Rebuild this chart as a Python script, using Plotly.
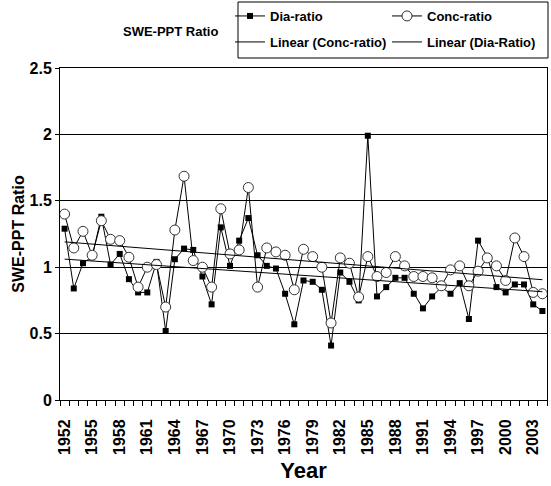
import numpy as np
import plotly.graph_objects as go

years = list(range(1952, 2005))
dia_ratio = [1.29, 0.84, 1.03, 1.08, 1.38, 1.02, 1.10, 0.91, 0.81, 0.81,
             1.04, 0.52, 1.06, 1.14, 1.13, 0.93, 0.72, 1.30, 1.01, 1.20,
             1.37, 1.09, 1.01, 0.99, 0.80, 0.57, 0.90, 0.89, 0.83, 0.41,
             0.96, 0.89, 0.75, 1.99, 0.78, 0.85, 0.92, 0.92, 0.80, 0.69,
             0.78, 0.85, 0.80, 0.88, 0.61, 1.20, 1.08, 0.85, 0.81, 0.87,
             0.87, 0.72, 0.67]
conc_ratio = [1.40, 1.145, 1.27, 1.09, 1.35, 1.21, 1.20, 1.075, 0.85, 1.00,
              1.02, 0.70, 1.28, 1.685, 1.05, 1.00, 0.85, 1.44, 1.10, 1.13,
              1.60, 0.85, 1.145, 1.115, 1.09, 0.83, 1.135, 1.08, 1.00, 0.58,
              1.07, 1.03, 0.775, 1.08, 0.93, 0.96, 1.08, 1.01, 0.93, 0.93,
              0.92, 0.86, 0.98, 1.01, 0.86, 0.97, 1.07, 1.01, 0.90, 1.22,
              1.08, 0.81, 0.80]
tick_labels = [str(y) for y in range(1952, 2004, 3)]
y_ticks = [0, 0.5, 1, 1.5, 2, 2.5]
y_tick_text = ["0", "0.5", "1", "1.5", "2", "2.5"]

x = np.array(years, dtype=float)
pc = np.polyfit(x, conc_ratio, 1)
pd_ = np.polyfit(x, dia_ratio, 1)
conc_trend = np.polyval(pc, x)
dia_trend = np.polyval(pd_, x)

FONT = "Liberation Sans, Arial, sans-serif"

# plot area in window pixels: x 60..547, y 68..400
PL, PR, PT, PB = 60, 547, 68, 400
def px(xp):
    return (xp - PL) / (PR - PL)
def py(yp):
    return (PB - yp) / (PB - PT)

fig = go.Figure()
fig.add_trace(go.Scatter(x=years, y=dia_ratio, name="Dia-ratio", mode="lines+markers",
                         line=dict(color="black", width=1), legend="legend",
                         marker=dict(symbol="square", size=6, color="black")))
fig.add_trace(go.Scatter(x=years, y=conc_ratio, name="Conc-ratio", mode="lines+markers",
                         line=dict(color="black", width=1), legend="legend",
                         marker=dict(symbol="circle", size=10, color="white",
                                     line=dict(color="#333", width=1))))
fig.add_trace(go.Scatter(x=years, y=conc_trend, name="Linear (Conc-ratio)", mode="lines",
                         line=dict(color="black", width=1), legend="legend2"))
fig.add_trace(go.Scatter(x=years, y=dia_trend, name="Linear (Dia-Ratio)", mode="lines",
                         line=dict(color="black", width=1), legend="legend2"))

leg_common = dict(orientation="h", xanchor="left", yanchor="middle",
                  entrywidth=112, borderwidth=0, bgcolor="rgba(0,0,0,0)",
                  font=dict(size=13, family=FONT, weight="bold"),
                  itemwidth=30, tracegroupgap=0)

fig.update_layout(
    width=551, height=486,
    margin=dict(l=PL, r=551 - PR, t=PT, b=486 - PB, autoexpand=False),
    paper_bgcolor="white", plot_bgcolor="white",
    font=dict(family=FONT, color="black", weight="bold"),
    showlegend=True,
    legend=dict(x=px(230), y=py(16), **leg_common),
    legend2=dict(x=px(230), y=py(42), **leg_common),
    xaxis=dict(range=[1951.5, 2004.5], tickvals=list(range(1952, 2004, 3)),
               ticktext=tick_labels, tickangle=-90, ticks="", automargin=False,
               ticklabelstandoff=12,
               tickfont=dict(size=16, family=FONT, weight="bold"),
               showgrid=False, zeroline=False,
               showline=True, linecolor="black", linewidth=1, mirror=True,
               minor=dict(tick0=1951.5, dtick=1, ticks="outside", ticklen=5,
                          tickcolor="black", showgrid=False),
               title=dict(text="Year", font=dict(size=22, family=FONT, weight="bold"),
                          standoff=8)),
    yaxis=dict(range=[0, 2.5], tickvals=y_ticks, ticktext=y_tick_text, automargin=False,
               ticks="outside", ticklen=4, tickcolor="black",
               tickfont=dict(size=16, family=FONT, weight="bold"),
               showgrid=True, gridcolor="black", gridwidth=1, zeroline=False,
               showline=True, linecolor="black", linewidth=1, mirror=True,
               title=dict(text="SWE-PPT Ratio", font=dict(size=16, family=FONT, weight="bold"),
                          standoff=0)),
    shapes=[dict(type="rect", xref="paper", yref="paper",
                 x0=px(238), x1=px(548), y0=py(58), y1=py(2),
                 line=dict(color="black", width=1), fillcolor="rgba(0,0,0,0)")],
    annotations=[dict(text="SWE-PPT Ratio", xref="paper", yref="paper",
                      x=px(121), y=py(32), xanchor="left",
                      yanchor="middle", showarrow=False,
                      font=dict(size=13, family=FONT, weight="bold"))],
)

fig.write_html("out.html", config={"displayModeBar": False},
               post_script="document.body.style.margin='0';")
